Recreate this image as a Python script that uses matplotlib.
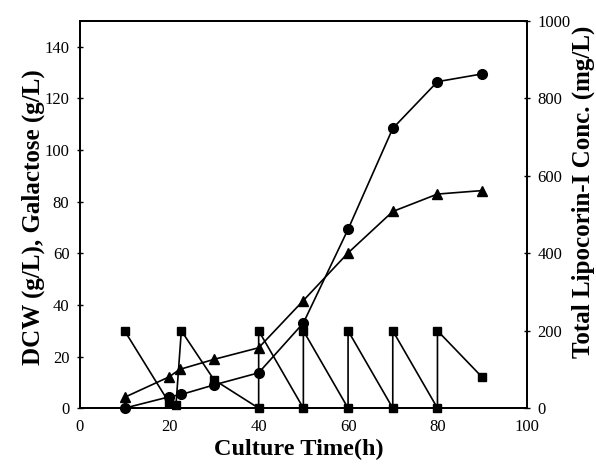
import matplotlib
matplotlib.use("Agg")
import matplotlib.pyplot as plt

plt.rcParams['font.family'] = ['Liberation Serif', 'DejaVu Serif']

# DCW (circles, left axis, g/L)
dcw_t = [10, 20, 22.7, 30, 40, 50, 60, 70, 80, 90]
dcw = [0, 4.4, 5.3, 9, 13.7, 33, 69.3, 108.4, 126.5, 129.5]

# Galactose (squares, left axis, g/L)
gal_t = [10, 20, 21.5, 22.7, 30, 40, 40, 50, 50, 60, 60, 70, 70, 80, 80, 90]
gal = [30, 2, 1.2, 30, 11, 0, 30, 0, 30, 0, 30, 0, 30, 0, 30, 12]

# Total Lipocorin-I (triangles, right axis, mg/L)
lip_t = [10, 20, 22.3, 30, 40, 50, 60, 70, 80, 90]
lip = [28, 81, 100, 126, 156, 278, 401, 508, 553, 562]

x_ticks = [0, 20, 40, 60, 80, 100]
yl_ticks = [0, 20, 40, 60, 80, 100, 120, 140]
yr_ticks = [0, 200, 400, 600, 800, 1000]

fig = plt.figure(figsize=(5.96, 4.67), dpi=100)
ax = fig.add_axes([0.134, 0.126, 0.750, 0.829])
ax2 = ax.twinx()

lw = 1.2
ax.plot(gal_t, gal, color='black', lw=lw, marker='s', ms=6, zorder=3, clip_on=False)
ax.plot(dcw_t, dcw, color='black', lw=lw, marker='o', ms=7, zorder=4, clip_on=False)
ax2.plot(lip_t, lip, color='black', lw=lw, marker='^', ms=7, zorder=4, clip_on=False)

ax.set_xlim(0, 100)
ax.set_ylim(0, 150)
ax2.set_ylim(0, 1000)
ax.set_xticks(x_ticks)
ax.set_yticks(yl_ticks)
ax2.set_yticks(yr_ticks)

for a in (ax, ax2):
    for s in a.spines.values():
        s.set_linewidth(1.3)
    a.tick_params(direction='inout', length=5, width=1, labelsize=12, pad=5)
ax.tick_params(axis='x', length=0, pad=8)

ax.set_xlabel('Culture Time(h)', fontsize=17.5, fontweight='bold')
ax.set_ylabel('DCW (g/L), Galactose (g/L)', fontsize=18, fontweight='bold')
ax2.set_ylabel('Total Lipocorin-I Conc. (mg/L)', fontsize=18, fontweight='bold')
ax.xaxis.set_label_coords(0.49, -0.08)
ax.yaxis.set_label_coords(-0.078, 0.494)
ax2.yaxis.set_label_coords(1.10, 0.56)

fig.savefig('out.png', dpi=100)
